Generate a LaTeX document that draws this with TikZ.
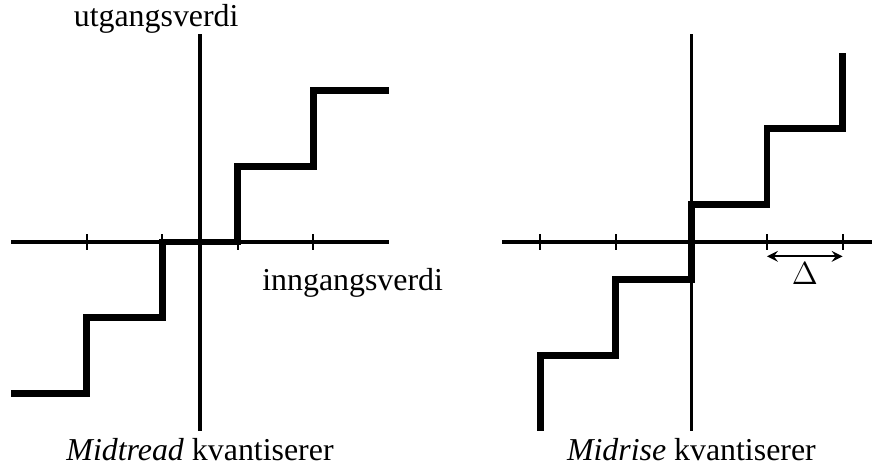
\documentclass[tikz,border=0pt]{standalone}
\usepackage{fontspec}
\setmainfont{Liberation Serif}

\begin{document}
\begin{tikzpicture}[axis/.style={line width=1.2pt},
	stair/.style={line width=2.6pt, line join=miter},
	tick/.style={line width=0.8pt},
	every node/.style={font=\fontsize{12}{14}\selectfont}]
	\useasboundingbox (-2.646,-2.989) rectangle (8.889,3.201);
	% midtread
	\draw[axis] (-2.5,0)--(2.5,0);
	\draw[axis] (0,-2.5)--(0,2.75);
	\foreach \x in {-1.5,-0.5,0.5,1.5}
		\draw[tick] (\x,-0.1)--(\x,0.1);
	\draw[stair] (-2.5,-2)--(-1.5,-2)--(-1.5,-1)--(-0.5,-1)--(-0.5,0)--(0.5,0)--(0.5,1)--(1.5,1)--(1.5,2)--(2.5,2);
	\node (utgang) at (-0.58,2.95) {utgangsverdi};
	\node[anchor=west] (inngang) at (0.7,-0.54) {inngangsverdi};
	\node (midtread) at (0,-2.75) {\textit{Midtread} kvantiserer};
	% midrise
	\begin{scope}[xshift=6.5cm]
		\draw[axis] (-2.5,0)--(2.5,0);
		\draw[axis] (0,-2.5)--(0,2.75);
		\foreach \x in {-2,-1,1,2}
			\draw[tick] (\x,-0.1)--(\x,0.1);
		\draw[stair] (-2,-2.5)--(-2,-1.5)--(-1,-1.5)--(-1,-0.5)--(0,-0.5)--(0,0.5)--(1,0.5)--(1,1.5)--(2,1.5)--(2,2.5);
		\coordinate (d1) at (1,-0.19);
		\coordinate (d2) at (2,-0.19);
		\draw[<->, >=stealth, line width=0.8pt] (d1)--(d2);
		\node (delta) at (1.5,-0.42) {$\Delta$};
		\node (midrise) at (0,-2.75) {\textit{Midrise} kvantiserer};
	\end{scope}
\end{tikzpicture}
\end{document}
